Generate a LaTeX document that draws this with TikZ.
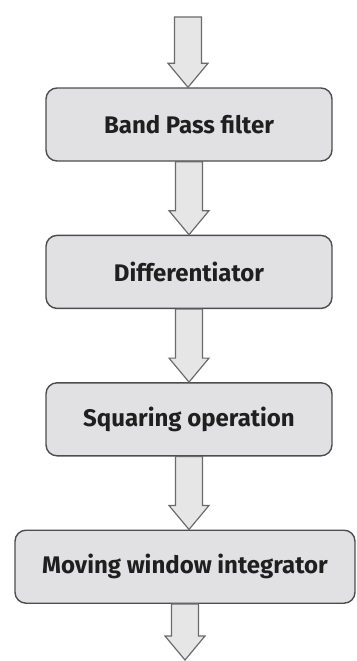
\documentclass[tikz,border=0pt]{standalone}
\usepackage{fontspec}
\setmainfont{Fira Sans}
\usetikzlibrary{positioning,calc}

\definecolor{boxfill}{HTML}{E1E1E3}
\definecolor{boxline}{HTML}{4D4D4D}
\definecolor{arrowfill}{HTML}{E6E6E6}
\definecolor{arrowline}{HTML}{6A6A6A}

\tikzset{
  stage/.style={draw=boxline, fill=boxfill, line width=1.4pt, rounded corners=11pt,
    minimum height=73pt, minimum width=286pt, inner sep=0pt,
    font=\fontsize{24}{28}\selectfont\bfseries, text=black!88},
  hollow/.style={draw=arrowline, fill=arrowfill, line width=1.2pt, line join=miter}
}

% block arrow from #1 (top of shaft) to #2 (tip)
\newcommand{\hollowarrow}[2]{%
  \path (#1) coordinate (ha1) (#2) coordinate (ha2);
  \draw[hollow] ($(ha1)+(-13.5pt,0)$) -- ($(ha2)+(-13.5pt,24pt)$) -- ($(ha2)+(-20pt,24pt)$)
    -- (ha2) -- ($(ha2)+(20pt,24pt)$) -- ($(ha2)+(13.5pt,24pt)$) -- ($(ha1)+(13.5pt,0)$) -- cycle;}

\begin{document}
\begin{tikzpicture}[x=1pt, y=1pt, node distance=73pt]
  \useasboundingbox (0,0) rectangle (356,-661);

  \coordinate (in) at (188,-17);
  \node[stage] (bpf) at (189,-124.5) {Band Pass filter};
  \node[stage, below=of bpf] (diff) {Differentiator};
  \node[stage, below=of diff] (sqr) {Squaring operation};
  \node[stage, below=of sqr, xshift=-4pt, minimum width=340pt] (mwi) {Moving window integrator};
  \coordinate (out) at (mwi.south |- 0,-660);

  \hollowarrow{in}{in |- bpf.north}
  \hollowarrow{bpf.south}{diff.north}
  \hollowarrow{diff.south}{sqr.north}
  \hollowarrow{sqr.south}{sqr.south |- mwi.north}
  \hollowarrow{mwi.south}{out}

\end{tikzpicture}
\end{document}
